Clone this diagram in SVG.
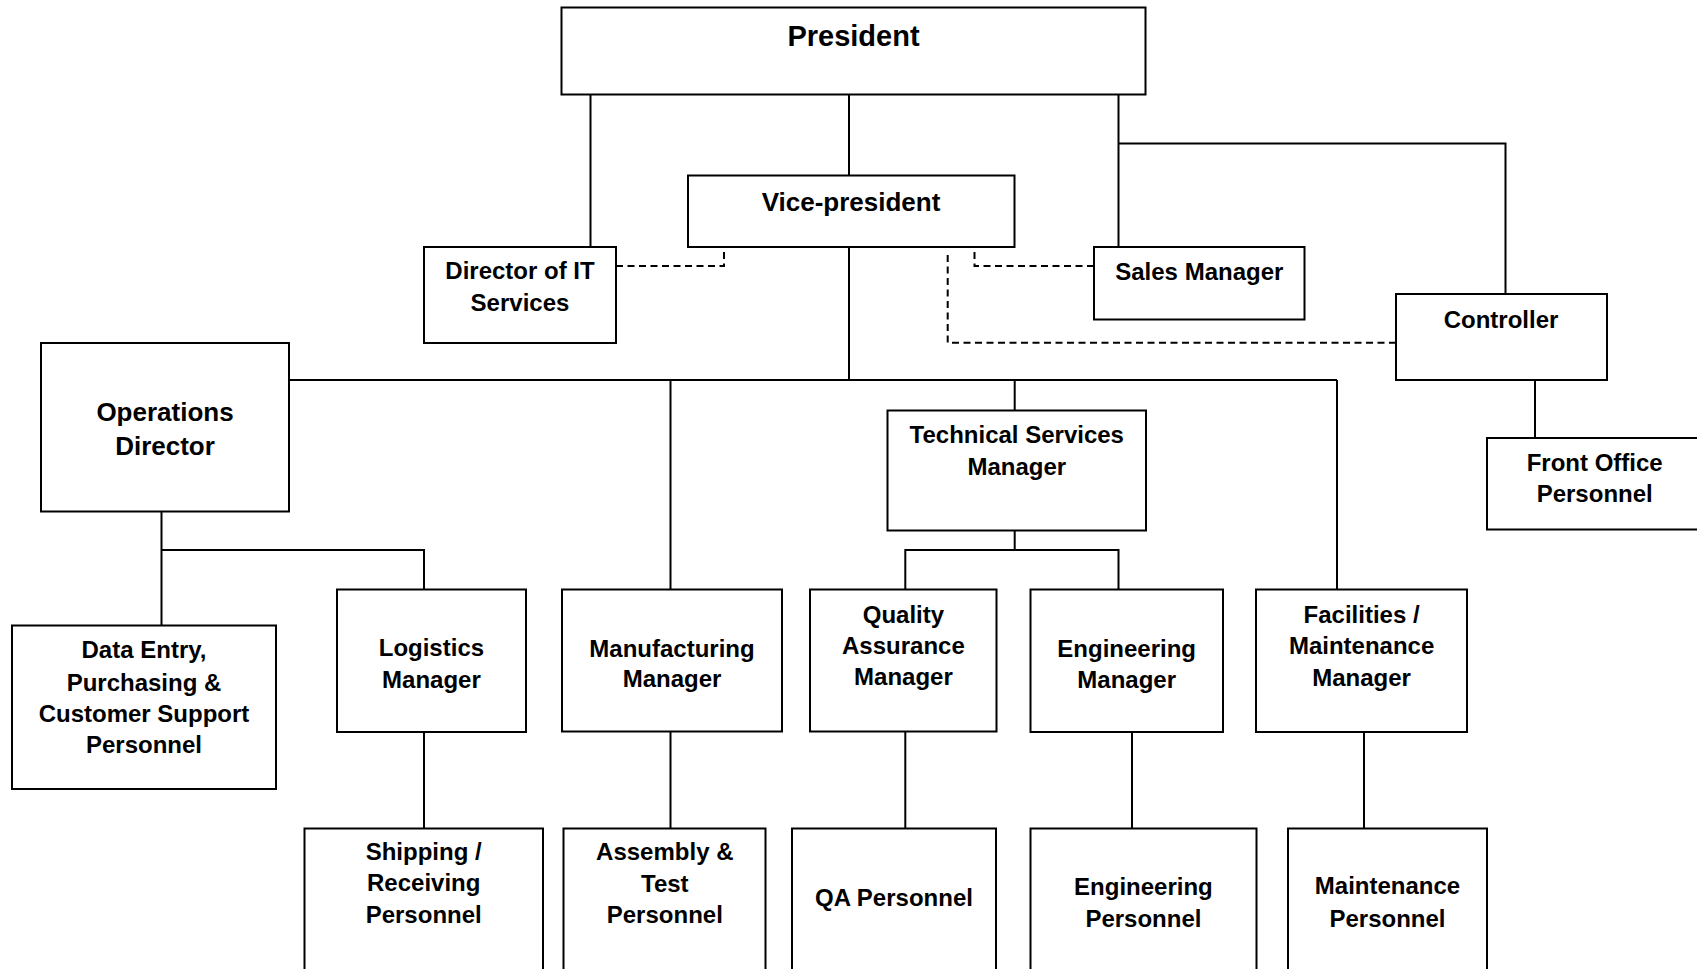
<svg xmlns="http://www.w3.org/2000/svg" width="1697" height="969" viewBox="0 0 1697 969">
<style>
.box{fill:#fff;stroke:#000;stroke-width:2}
.ln{fill:none;stroke:#000;stroke-width:2}
.dash{fill:none;stroke:#000;stroke-width:2;stroke-dasharray:7,4.5}
text{font-family:"Liberation Sans",Arial,Helvetica,sans-serif;font-weight:bold;font-size:24px;text-anchor:middle;fill:#000}
</style>
<rect width="1697" height="969" fill="#fff"/>
<g id="connectors">
<path class="ln" d="M590.5 95V247"/>
<path class="ln" d="M849 95V175.5"/>
<path class="ln" d="M1118.5 95V247"/>
<path class="ln" d="M1118.5 143.5H1505.5V294"/>
<path class="ln" d="M1535 380V438"/>
<path class="ln" d="M849 247V380"/>
<path class="ln" d="M289 380H1337"/>
<path class="ln" d="M670.5 380V589.5"/>
<path class="ln" d="M1014.7 380V410.5"/>
<path class="ln" d="M1337 380V589.5"/>
<path class="ln" d="M161.5 511.5V625.5"/>
<path class="ln" d="M161.5 550H424V589.5"/>
<path class="ln" d="M424 732V828.5"/>
<path class="ln" d="M670.5 731.5V828.5"/>
<path class="ln" d="M1014.7 530.5V550"/>
<path class="ln" d="M905.3 589.5V550H1118.5V589.5"/>
<path class="ln" d="M905.3 731.5V828.5"/>
<path class="ln" d="M1132 732V828.5"/>
<path class="ln" d="M1364 732V828.5"/>
<path class="dash" d="M616 266H724V247"/>
<path class="dash" d="M1094 266H974.5V247"/>
<path class="dash" d="M1396 342.7H947.7V252.5"/>
</g>
<g id="president"><rect class="box" x="561.5" y="7.5" width="584" height="87"/><text x="853.5" y="45.7" style="font-size:29px">President</text></g>
<g id="vice-president"><rect class="box" x="688" y="175.5" width="326.5" height="71.5"/><text x="851" y="210.7" style="font-size:26px">Vice-president</text></g>
<g id="director-it"><rect class="box" x="424" y="247" width="192" height="96"/><text x="520" y="279.3">Director of IT</text><text x="520" y="310.7">Services</text></g>
<g id="sales-manager"><rect class="box" x="1094" y="247" width="210.5" height="72.5"/><text x="1199.3" y="280">Sales Manager</text></g>
<g id="controller"><rect class="box" x="1396" y="294" width="211" height="86"/><text x="1501" y="328.3">Controller</text></g>
<g id="front-office"><rect class="box" x="1487" y="438" width="215" height="91.5"/><text x="1594.7" y="470.7">Front Office</text><text x="1594.7" y="501.7">Personnel</text></g>
<g id="operations-director"><rect class="box" x="41" y="343" width="248" height="168.5"/><text x="165" y="420.7" style="font-size:26px">Operations</text><text x="165" y="455" style="font-size:26px">Director</text></g>
<g id="technical-services"><rect class="box" x="887.5" y="410.5" width="258.5" height="120"/><text x="1016.8" y="442.7">Technical Services</text><text x="1016.8" y="475">Manager</text></g>
<g id="data-entry"><rect class="box" x="12" y="625.5" width="264" height="163.5"/><text x="144" y="658.3">Data Entry,</text><text x="144" y="690.7">Purchasing &amp;</text><text x="144" y="721.7">Customer Support</text><text x="144" y="752.7">Personnel</text></g>
<g id="logistics"><rect class="box" x="337" y="589.5" width="189" height="142.5"/><text x="431.4" y="656">Logistics</text><text x="431.4" y="687.7">Manager</text></g>
<g id="manufacturing"><rect class="box" x="562" y="589.5" width="220" height="142"/><text x="672" y="656.7">Manufacturing</text><text x="672" y="687.3">Manager</text></g>
<g id="qa-manager"><rect class="box" x="810" y="589.5" width="186.5" height="142"/><text x="903.4" y="623.3">Quality</text><text x="903.4" y="654">Assurance</text><text x="903.4" y="685">Manager</text></g>
<g id="engineering-manager"><rect class="box" x="1030.5" y="589.5" width="192.5" height="142.5"/><text x="1126.7" y="656.7">Engineering</text><text x="1126.7" y="687.7">Manager</text></g>
<g id="facilities-manager"><rect class="box" x="1256" y="589.5" width="211" height="142.5"/><text x="1361.6" y="622.7">Facilities /</text><text x="1361.6" y="654">Maintenance</text><text x="1361.6" y="685.7">Manager</text></g>
<g id="shipping"><rect class="box" x="304.5" y="828.5" width="238.5" height="150"/><text x="423.7" y="860">Shipping /</text><text x="423.7" y="890.5">Receiving</text><text x="423.7" y="922.5">Personnel</text></g>
<g id="assembly"><rect class="box" x="563.5" y="828.5" width="202" height="150"/><text x="664.8" y="860">Assembly &amp;</text><text x="664.8" y="891.5">Test</text><text x="664.8" y="923">Personnel</text></g>
<g id="qa-personnel"><rect class="box" x="792" y="828.5" width="204" height="150"/><text x="894" y="905.7">QA Personnel</text></g>
<g id="engineering-personnel"><rect class="box" x="1030.5" y="828.5" width="226" height="150"/><text x="1143.4" y="895">Engineering</text><text x="1143.4" y="926.7">Personnel</text></g>
<g id="maintenance-personnel"><rect class="box" x="1288" y="828.5" width="199" height="150"/><text x="1387.5" y="894.3">Maintenance</text><text x="1387.5" y="926.7">Personnel</text></g>
</svg>
